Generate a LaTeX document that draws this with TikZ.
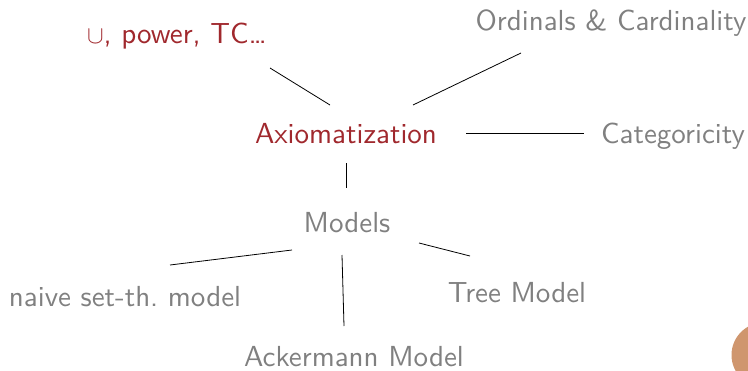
\documentclass[tikz,border=0pt]{standalone}
\usepackage{fontspec}
\newfontfamily\slidefont{lmsans10-regular.otf}
\definecolor{txtgray}{RGB}{128,128,128}
\definecolor{txtred}{RGB}{160,40,45}
\definecolor{blob}{RGB}{207,150,110}
\tikzset{
  lbl/.style={font=\slidefont\fontsize{29}{33}\selectfont, text=txtgray, inner sep=0pt, anchor=base},
  redlbl/.style={lbl, text=txtred},
  conn/.style={draw=black, line width=0.8pt}
}
\begin{document}
\begin{tikzpicture}[x=1pt,y=-1pt]
\useasboundingbox (0,0) rectangle (748,370);
\node[redlbl] (ax) at (346,143) {Axiomatization};
\node[redlbl] (pw) at (177,43) {$\cup$, power, TC\dots};
\node[lbl] (ord) at (611,30) {Ordinals \& Cardinality};
\node[lbl] (cat) at (673,143) {Categoricity};
\node[lbl] (mod) at (347,232) {Models};
\node[lbl] (naive) at (125,306) {naive set-th.\ model};
\node[lbl] (tree) at (517,302) {Tree Model};
\node[lbl] (ack) at (354,366) {Ackermann Model};
\coordinate (a1) at (270,68); \coordinate (a2) at (330,105);
\coordinate (b1) at (413,105); \coordinate (b2) at (521,53);
\coordinate (c1) at (466,133); \coordinate (c2) at (584,133);
\coordinate (d1) at (346,163); \coordinate (d2) at (346,188);
\coordinate (e1) at (292,250); \coordinate (e2) at (170,265);
\coordinate (f1) at (342,255); \coordinate (f2) at (344,326);
\coordinate (g1) at (419,243); \coordinate (g2) at (470,256);
\draw[conn] (a1) -- (a2);
\draw[conn] (b1) -- (b2);
\draw[conn] (c1) -- (c2);
\draw[conn] (d1) -- (d2);
\draw[conn] (e1) -- (e2);
\draw[conn] (f1) -- (f2);
\draw[conn] (g1) -- (g2);
\fill[blob] (764,355) circle (32.5);
\end{tikzpicture}
\end{document}
